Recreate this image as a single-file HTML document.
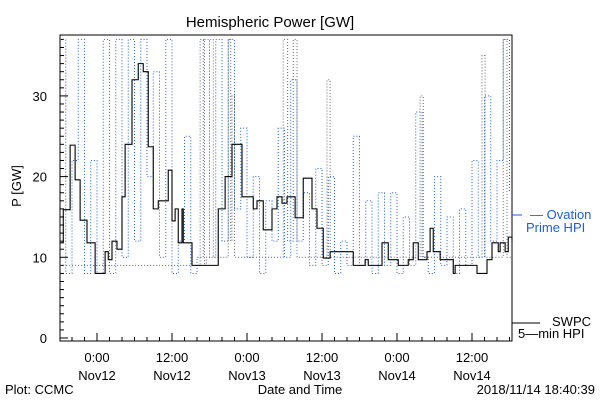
<!DOCTYPE html>
<html><head><meta charset="utf-8"><style>
body{margin:0;background:#fff}
svg{display:block;font-family:"Liberation Sans","DejaVu Sans",sans-serif}
</style></head><body>
<svg id="chart" width="600" height="400" viewBox="0 0 600 400">
<text x="270" y="27" font-size="15" text-anchor="middle">Hemispheric Power [GW]</text>
<text x="0" y="0" font-size="13" text-anchor="middle" transform="translate(21,186) rotate(-90)">P [GW]</text>
<text x="300" y="394" font-size="13" text-anchor="middle">Date and Time</text>
<text x="5" y="394" font-size="13">Plot: CCMC</text>
<text x="595" y="394" font-size="13" text-anchor="end">2018/11/14 18:40:39</text>
<g id="axes"></g>
<g id="series"></g>
<g>
<line x1="512" y1="215" x2="522" y2="215" stroke="#1a5fe0"/>
<text x="530" y="219" font-size="13" fill="#1a5fe0">— Ovation</text>
<text x="526" y="232" font-size="13" fill="#1a5fe0">Prime HPI</text>
</g>
<g>
<line x1="512" y1="323" x2="540" y2="323" stroke="#000"/>
<text x="552" y="326" font-size="13">SWPC</text>
<text x="518" y="338" font-size="13">5—min HPI</text>
</g>
</svg>
<script>
const yTicks=[0,10,20,30];
const xTickHours=[0,12,24,36,48,60];
const xTickTimes=["0:00","12:00","0:00","12:00","0:00","12:00"];
const xTickDates=["Nov12","Nov12","Nov13","Nov13","Nov14","Nov14"];
const swpcHours=[-5.9,-5.4,-4.3,-3.5,-2.7,-1.6,-0.3,0.5,1.3,1.8,2.4,3.2,4.0,4.5,5.6,6.6,7.4,8.2,9.0,9.8,11.4,12.0,12.5,13.0,13.6,13.8,15.2,18.4,19.4,20.5,21.6,22.4,23.2,24.2,25.0,25.6,26.6,28.0,28.8,29.6,30.4,31.7,33.0,34.4,35.2,36.2,37.3,40.0,41.0,42.9,43.4,45.6,46.6,47.7,48.2,49.8,50.6,51.4,52.8,53.3,53.8,54.9,56.5,57.0,57.3,59.2,60.8,61.6,62.4,63.2,64.2,64.5,65.3,65.8,66.4];
const swpcValues=[11.8,15.9,23.9,19.6,14.6,11.8,8,8,10.7,9.7,12,11,17.5,24,32,34,33,23.7,16,17,20.8,14.5,16,11.8,16,11.8,9,9,16,20,24,24,17.5,17.5,16,17,13.4,16,17.5,16.7,17.5,14.9,19.8,16,13.6,9.9,10.7,10.7,9,9.7,9,11.8,9.7,9.7,9,9.7,11.8,9.7,10.7,13.6,10.7,9.7,9.7,8,9,9,8,8,9.7,11.8,10.7,11.8,10.7,12.5,12];
const ovationValues=[37,8,22,37,8,22,8,37,8,37,10,37,12,37,20,33,10,37,8,12,25,8,10,37,10,37,12,37,16,26,10,20,8,17,12,26,10,32,12,18,9,21,9,20,8,12,9,25,9,17,8,18,9,18,8,15,9,28,10,8,20,9,15,8,16,9,22,10,30,12,22,37,18];
const ovationStartHour=-6;
const grayHours=[-5.9,15.8,16.5,17.2,17.5,18,18.6,20.5,21,21.4,21.6,22,29.2,29.8,30.5,31.4,32,36.3,36.8,37.3,51.2,51.7,52.2,61.1,61.6,62.1,64.5,65,65.6,66.4];
const grayValues=[9,9,37,9,10,37,10,10,37,12,30,10,10,37,12,37,10,10,32,10,10,30,10,10,35,10,10,37,10,10];

const NS="http://www.w3.org/2000/svg";
const L=60,R=512,T=35,B=341;
const X=h=>Math.max(L,Math.min(R,97+h*6.25));
const Y=v=>338-v*8.07;
const cy=v=>Math.max(T,Math.min(B,Y(v)));
const axes=document.getElementById('axes'),series=document.getElementById('series');
function mk(tag,attrs,parent){const e=document.createElementNS(NS,tag);for(const k in attrs)e.setAttribute(k,attrs[k]);parent.appendChild(e);return e;}
function stepPts(hs,vs){const p=[];hs.forEach((h,i)=>{if(i>0)p.push(X(h)+','+cy(vs[i-1]));p.push(X(h)+','+cy(vs[i]));});return p.join(' ');}
const frame=mk('rect',{x:L,y:T,width:R-L,height:B-T,fill:'none',stroke:'#000'},axes);


for(let v=0;v<=37;v++){const tk=mk('line',{x1:L,x2:L+(v%10===0?8:4),y1:Y(v),y2:Y(v),stroke:'#000'},axes);

}
yTicks.forEach(v=>{const t=mk('text',{x:L-13,y:Y(v)+5,'font-size':13,'text-anchor':'end'},axes);t.textContent=v;

});
for(let h=-4;h<=66;h+=2){const maj=h%12===0;const tk=mk('line',{x1:X(h),x2:X(h),y1:B,y2:B-(maj?8:4),stroke:'#000'},axes);

}
xTickHours.forEach((h,i)=>{const a=mk('text',{x:X(h),y:362,'font-size':13,'text-anchor':'middle'},axes);a.textContent=xTickTimes[i];


const b=mk('text',{x:X(h),y:380,'font-size':13,'text-anchor':'middle'},axes);b.textContent=xTickDates[i];

});
const g=mk('polyline',{points:stepPts(grayHours,grayValues),fill:'none',stroke:'#666','stroke-dasharray':'1 2'},series);


const oh=ovationValues.map((v,i)=>ovationStartHour+i);
const o=mk('polyline',{points:stepPts(oh,ovationValues),fill:'none',stroke:'#1a5fe0','stroke-dasharray':'1 2'},series);


const s=mk('polyline',{points:stepPts(swpcHours,swpcValues),fill:'none',stroke:'#000','stroke-width':1.1},series);


</script>
</body></html>
